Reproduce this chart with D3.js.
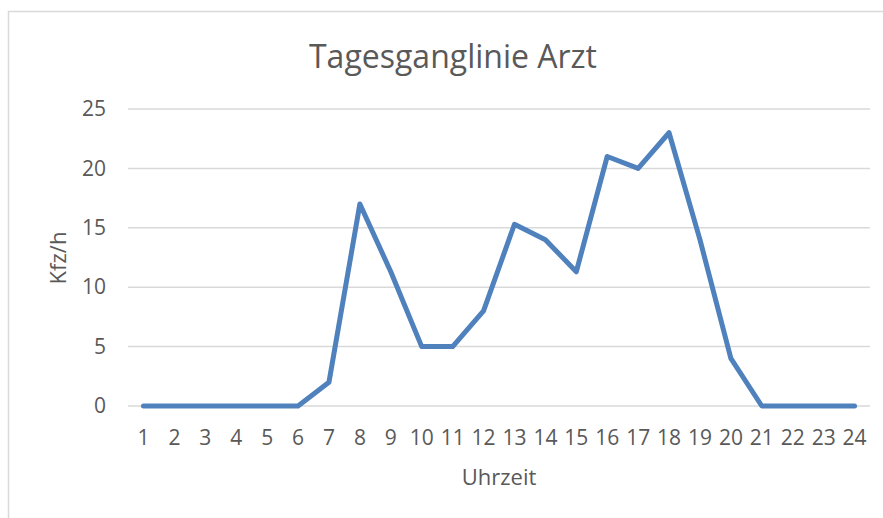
<!DOCTYPE html>
<html>
  <head>
    <meta charset="utf-8">
    <title>Tagesganglinie Arzt</title>
    <script src="https://d3js.org/d3.v7.min.js"></script>
    <style>
      body { margin: 0; background: #fff; }
      text { font-family: "Open Sans", sans-serif; fill: #595959; }
    </style>
  </head>
  <body>
    <svg id="chart" width="883" height="518"></svg>
    <script>
      // data
      var hours = d3.range(1, 25).map(String);
      var kfz = [0, 0, 0, 0, 0, 0, 2, 17, 11.3, 5, 5, 8, 15.3, 14, 11.3, 21, 20, 23, 14, 4, 0, 0, 0, 0];
      var yTicks = [0, 5, 10, 15, 20, 25];

      var svg = d3.select("#chart");
      var margin = { top: 109, right: 13, bottom: 112, left: 128 };
      var width = 883, height = 518;

      // chart frame
      svg.append("rect")
        .attr("x", 8.5).attr("y", 11.5)
        .attr("width", 890).attr("height", 520)
        .attr("fill", "none")
        .attr("stroke", "#d9d9d9")
        .attr("stroke-width", 1.5);

      var x = d3.scaleBand()
        .domain(hours)
        .range([margin.left, width - margin.right]);
      var y = d3.scaleLinear()
        .domain([0, 25])
        .range([height - margin.bottom, margin.top]);

      // gridlines
      svg.append("g")
        .selectAll("line")
        .data(yTicks)
        .enter().append("line")
          .attr("x1", margin.left).attr("x2", width - margin.right)
          .attr("y1", function(d) { return y(d); })
          .attr("y2", function(d) { return y(d); })
          .attr("stroke", "#d9d9d9")
          .attr("stroke-width", 1.5);

      // y axis labels
      var yAxis = d3.axisLeft(y).tickValues(yTicks).tickSize(0).tickPadding(22);
      svg.append("g")
        .attr("transform", "translate(" + margin.left + ",0)")
        .call(yAxis)
        .call(function(g) { g.select(".domain").remove(); })
        .selectAll("text")
          .style("font-size", "21px")
          .style("fill", "#595959")
          .style("font-family", "'Open Sans', sans-serif");

      // x axis labels
      var xAxis = d3.axisBottom(x).tickSize(0).tickPadding(24);
      svg.append("g")
        .attr("transform", "translate(0," + y(0) + ")")
        .call(xAxis)
        .call(function(g) { g.select(".domain").remove(); })
        .selectAll("text")
          .style("font-size", "21px")
          .style("fill", "#595959")
          .style("font-family", "'Open Sans', sans-serif");

      // line
      var line = d3.line()
        .x(function(d, i) { return x(hours[i]) + x.bandwidth() / 2; })
        .y(function(d) { return y(d); });
      svg.append("path")
        .datum(kfz)
        .attr("d", line)
        .attr("fill", "none")
        .attr("stroke", "#4f81bd")
        .attr("stroke-width", 5)
        .attr("stroke-linejoin", "round")
        .attr("stroke-linecap", "round");

      // titles
      svg.append("text")
        .attr("x", 453).attr("y", 68)
        .attr("text-anchor", "middle")
        .style("font-size", "32px")
        .text("Tagesganglinie Arzt");
      svg.append("text")
        .attr("x", 499).attr("y", 485)
        .attr("text-anchor", "middle")
        .style("font-size", "22px")
        .text("Uhrzeit");
      svg.append("text")
        .attr("transform", "translate(66,258) rotate(-90)")
        .attr("text-anchor", "middle")
        .style("font-size", "22px")
        .text("Kfz/h");
    </script>
  </body>
</html>
